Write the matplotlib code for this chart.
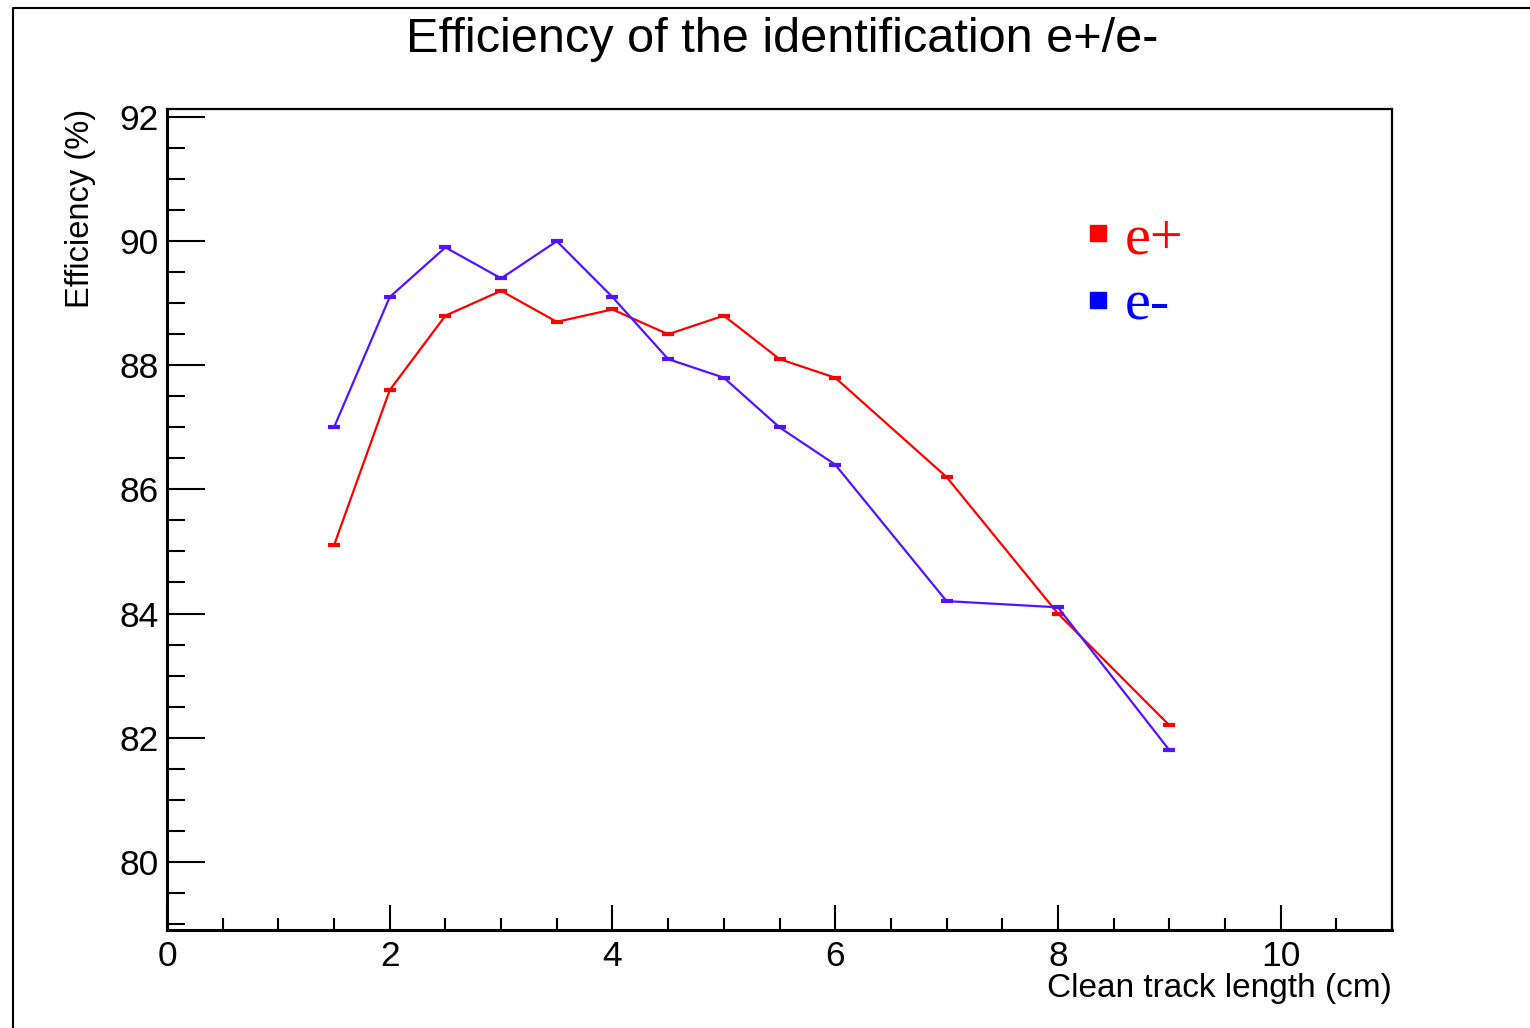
import matplotlib
matplotlib.use("Agg")
import matplotlib.pyplot as plt
from matplotlib.ticker import MultipleLocator
from matplotlib.lines import Line2D

x_len = [1.5, 2, 2.5, 3, 3.5, 4, 4.5, 5, 5.5, 6, 7, 8, 9]
eff_pos = [85.1, 87.6, 88.8, 89.2, 88.7, 88.9, 88.5, 88.8, 88.1, 87.8, 86.2, 84.0, 82.2]
eff_neg = [87.0, 89.1, 89.9, 89.4, 90.0, 89.1, 88.1, 87.8, 87.0, 86.4, 84.2, 84.1, 81.8]
labels = ["e+", "e-"]

plt.rcParams['font.family'] = ['Liberation Sans', 'DejaVu Sans']

fig = plt.figure(figsize=(15.3, 10.28), dpi=100)
W, H = 1530, 1028
ax = fig.add_axes([167 / W, 1 - 930 / H, (1392 - 167) / W, (930 - 109) / H])

red = '#ff0000'
blue = '#5214ff'
ax.plot(x_len, eff_pos, color=red, lw=1.6, marker='_', ms=8, mew=3)
ax.plot(x_len, eff_neg, color=blue, lw=1.6, marker='_', ms=8, mew=3)

ax.set_xlim(0, 11.0)
ax.set_ylim(78.9, 92.13)
ax.xaxis.set_major_locator(MultipleLocator(2))
ax.xaxis.set_minor_locator(MultipleLocator(0.5))
ax.yaxis.set_major_locator(MultipleLocator(2))
ax.yaxis.set_minor_locator(MultipleLocator(0.5))
ax.tick_params(axis='y', which='major', direction='in', length=27, width=1.5, labelsize=25.5, pad=6)
ax.tick_params(axis='y', which='minor', direction='in', length=13, width=1.5)
ax.tick_params(axis='x', which='major', direction='in', length=18, width=1.5, labelsize=25.5, pad=7)
ax.tick_params(axis='x', which='minor', direction='in', length=9, width=1.5)
for s in ['left', 'bottom']:
    ax.spines[s].set_linewidth(2.2)
for s in ['top', 'right']:
    ax.spines[s].set_linewidth(1.6)

ax.set_xlabel("Clean track length (cm)", fontsize=24, ha='right', x=1.0, labelpad=0)
ax.set_ylabel("Efficiency (%)", fontsize=23.5, ha='right', y=1.0, labelpad=17)

fig.text(782 / W, 1 - 40 / H, "Efficiency of the identification e+/e-", fontsize=35,
         ha='center', va='center')

# legend
leg_colors = [red, 'blue']
leg_marker_y = [233, 300]
leg_base_y = [253, 319]
for lab, c, my, by in zip(labels, leg_colors, leg_marker_y, leg_base_y):
    fig.add_artist(Line2D([1098 / W], [1 - my / H], ls='none', marker='s', ms=11.5, color=c,
                          transform=fig.transFigure))
    fig.text(1125 / W, 1 - by / H, lab, color=c, fontsize=42, family='Liberation Serif',
             ha='left', va='baseline')

# outer pad border
fig.add_artist(Line2D([13 / W, 13 / W, 1.0], [0.0, 1 - 8 / H, 1 - 8 / H], color='black', lw=1.5,
                      transform=fig.transFigure))

fig.savefig("out.png", dpi=100, facecolor='white')
